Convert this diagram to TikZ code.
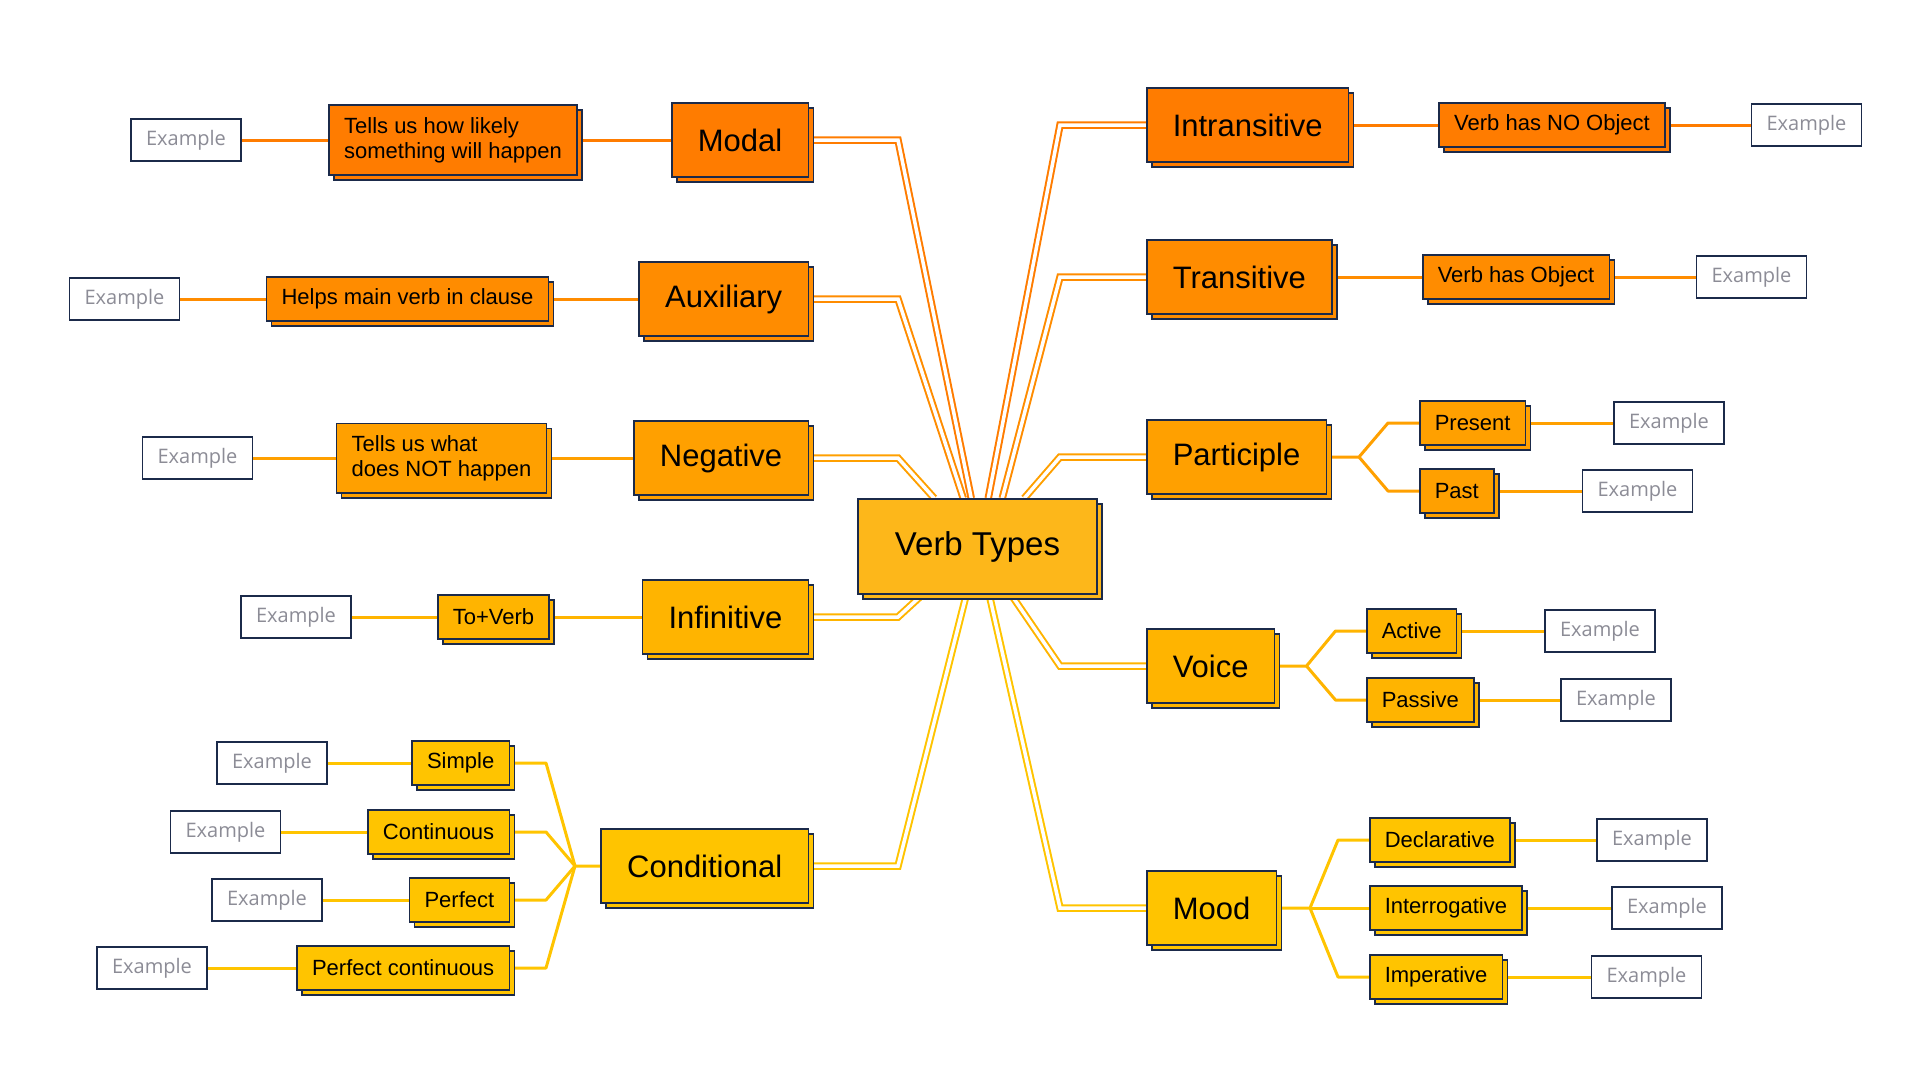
\documentclass[tikz,border=0pt]{standalone}
\usepackage{fontspec}
\setmainfont{Liberation Sans}
\newfontfamily\exfont{Open Sans}
\usetikzlibrary{shadows,backgrounds,calc}

\definecolor{navy}{RGB}{27,42,74}
\definecolor{cA}{RGB}{255,124,0}
\definecolor{cB}{RGB}{255,140,0}
\definecolor{cC}{RGB}{255,160,0}
\definecolor{cD}{RGB}{255,180,0}
\definecolor{cE}{RGB}{255,196,0}
\definecolor{cVT}{RGB}{253,183,26}
\definecolor{exgray}{RGB}{140,140,150}

\begin{document}
\begin{tikzpicture}[x=1pt, y=-1pt,
    box/.style={draw=navy, line width=1.5pt, text=black,
        copy shadow={shadow xshift=5pt, shadow yshift=-5pt}},
    topbox/.style={box, fill=cVT, minimum width=239pt, minimum height=95pt,
        font=\fontsize{33}{38}\selectfont},
    mainbox/.style={box, fill=#1, inner xsep=26pt, minimum height=74pt,
        font=\fontsize{31}{36}\selectfont},
    subbox/.style={box, fill=#1, inner xsep=15pt, minimum height=44pt,
        align=left, font=\fontsize{22}{25}\selectfont},
    exbox/.style={draw=navy, line width=1.5pt, fill=white, text=exgray,
        minimum width=110pt, minimum height=42pt,
        font=\exfont\fontsize{20}{24}\selectfont},
    link/.style={draw=#1, line width=2pt, double=white, double distance=3.5pt},
    wire/.style={draw=#1, line width=3pt, line join=round}]

    \useasboundingbox (0,0) rectangle (1930,1090);

    \draw
    (977.5, 546.5) node[topbox](vt){Verb Types}
    % left side
    (809, 140) node[mainbox=cA, anchor=east](modal){Modal}
    (453, 140) node[subbox=cA, inner ysep=12pt](modalInfo){Tells us how likely\\something will happen}
    (186, 140) node[exbox](modalEx){Example}
    (809, 299) node[mainbox=cB, anchor=east](aux){Auxiliary}
    (407.5, 299) node[subbox=cB](auxInfo){Helps main verb in clause}
    (124.5, 299) node[exbox](auxEx){Example}
    (809, 458) node[mainbox=cC, anchor=east](neg){Negative}
    (441.5, 458) node[subbox=cC, inner ysep=12pt](negInfo){Tells us what\\does NOT happen}
    (197.5, 458) node[exbox](negEx){Example}
    (809, 617) node[mainbox=cD, anchor=east](inf){Infinitive}
    (493.5, 617) node[subbox=cD](infInfo){To+Verb}
    (296, 617) node[exbox](infEx){Example}
    (809, 866) node[mainbox=cE, anchor=east](cond){Conditional}
    (510, 763) node[subbox=cE, anchor=east](simple){Simple}
    (272, 763) node[exbox](simpleEx){Example}
    (510, 832) node[subbox=cE, anchor=east](cont){Continuous}
    (225.5, 832) node[exbox](contEx){Example}
    (510, 900) node[subbox=cE, anchor=east](perf){Perfect}
    (267, 900) node[exbox](perfEx){Example}
    (510, 968) node[subbox=cE, anchor=east](perfcont){Perfect continuous}
    (152, 968) node[exbox](perfcontEx){Example}
    % right side
    (1146, 125) node[mainbox=cA, anchor=west](intr){Intransitive}
    (1552, 125) node[subbox=cA](intrInfo){Verb has NO Object}
    (1806.5, 125) node[exbox](intrEx){Example}
    (1146, 277) node[mainbox=cB, anchor=west](tran){Transitive}
    (1516, 277) node[subbox=cB](tranInfo){Verb has Object}
    (1751.5, 277) node[exbox](tranEx){Example}
    (1146, 457) node[mainbox=cC, anchor=west](part){Participle}
    (1419, 423) node[subbox=cC, anchor=west](present){Present}
    (1669, 423) node[exbox](presentEx){Example}
    (1419, 491) node[subbox=cC, anchor=west](past){Past}
    (1637.5, 491) node[exbox](pastEx){Example}
    (1146, 666) node[mainbox=cD, anchor=west](voice){Voice}
    (1366, 631) node[subbox=cD, anchor=west](active){Active}
    (1600, 631) node[exbox](activeEx){Example}
    (1366, 700) node[subbox=cD, anchor=west](passive){Passive}
    (1616, 700) node[exbox](passiveEx){Example}
    (1146, 908) node[mainbox=cE, anchor=west](mood){Mood}
    (1369, 840) node[subbox=cE, anchor=west](decl){Declarative}
    (1652, 840) node[exbox](declEx){Example}
    (1369, 908) node[subbox=cE, anchor=west](inter){Interrogative}
    (1667, 908) node[exbox](interEx){Example}
    (1369, 977) node[subbox=cE, anchor=west](imper){Imperative}
    (1646.5, 977) node[exbox](imperEx){Example};

    \coordinate (lc) at (898, 0);
    \coordinate (rc) at (1060, 0);
    \coordinate (cf) at (546, 0);
    \coordinate (cj) at (575, 866);
    \coordinate (pj) at (1359, 457);
    \coordinate (pf) at (1388, 0);
    \coordinate (vj) at (1306.5, 666);
    \coordinate (vf) at (1335.5, 0);
    \coordinate (mj) at (1310, 908);
    \coordinate (mf) at (1338, 0);

    \begin{scope}[on background layer]
    \draw[link=cA] (modal.east) -- (modal.east -| lc) -- ($(vt.north west)+(114,0)$);
    \draw[link=cB] (aux.east) -- (aux.east -| lc) -- ($(vt.north west)+(106,0)$);
    \draw[link=cC] (neg.east) -- (neg.east -| lc) -- ($(vt.north west)+(77,0)$);
    \draw[link=cD] (inf.east) -- (inf.east -| lc) -- ($(vt.south west)+(65,0)$);
    \draw[link=cE] (cond.east) -- (cond.east -| lc) -- ($(vt.south west)+(109,0)$);
    \draw[link=cA] (intr.west) -- (intr.west -| rc) -- ($(vt.north west)+(131,0)$);
    \draw[link=cB] (tran.west) -- (tran.west -| rc) -- ($(vt.north west)+(145,0)$);
    \draw[link=cC] (part.west) -- (part.west -| rc) -- ($(vt.north west)+(167,0)$);
    \draw[link=cD] (voice.west) -- (voice.west -| rc) -- ($(vt.south west)+(154,0)$);
    \draw[link=cE] (mood.west) -- (mood.west -| rc) -- ($(vt.south west)+(132,0)$);

    \draw[wire=cA] (modalEx.east) -- (modalInfo.west);
    \draw[wire=cA] (modalInfo.east) -- (modal.west);
    \draw[wire=cB] (auxEx.east) -- (auxInfo.west);
    \draw[wire=cB] (auxInfo.east) -- (aux.west);
    \draw[wire=cC] (negEx.east) -- (negInfo.west);
    \draw[wire=cC] (negInfo.east) -- (neg.west);
    \draw[wire=cD] (infEx.east) -- (infInfo.west);
    \draw[wire=cD] (infInfo.east) -- (inf.west);

    \draw[wire=cE] (simpleEx.east) -- (simple.west);
    \draw[wire=cE] (contEx.east) -- (cont.west);
    \draw[wire=cE] (perfEx.east) -- (perf.west);
    \draw[wire=cE] (perfcontEx.east) -- (perfcont.west);
    \draw[wire=cE] (simple.east) -- (simple.east -| cf) -- (cj) -- (cond.west);
    \draw[wire=cE] (cont.east) -- (cont.east -| cf) -- (cj);
    \draw[wire=cE] (perf.east) -- (perf.east -| cf) -- (cj);
    \draw[wire=cE] (perfcont.east) -- (perfcont.east -| cf) -- (cj);

    \draw[wire=cA] (intr.east) -- (intrInfo.west);
    \draw[wire=cA] (intrInfo.east) -- (intrEx.west);
    \draw[wire=cB] (tran.east) -- (tranInfo.west);
    \draw[wire=cB] (tranInfo.east) -- (tranEx.west);

    \draw[wire=cC] (part.east) -- (pj) -- (pf |- present.west) -- (present.west);
    \draw[wire=cC] (pj) -- (pf |- past.west) -- (past.west);
    \draw[wire=cC] (present.east) -- (presentEx.west);
    \draw[wire=cC] (past.east) -- (pastEx.west);

    \draw[wire=cD] (voice.east) -- (vj) -- (vf |- active.west) -- (active.west);
    \draw[wire=cD] (vj) -- (vf |- passive.west) -- (passive.west);
    \draw[wire=cD] (active.east) -- (activeEx.west);
    \draw[wire=cD] (passive.east) -- (passiveEx.west);

    \draw[wire=cE] (mood.east) -- (mj) -- (mf |- decl.west) -- (decl.west);
    \draw[wire=cE] (mj) -- (inter.west);
    \draw[wire=cE] (mj) -- (mf |- imper.west) -- (imper.west);
    \draw[wire=cE] (decl.east) -- (declEx.west);
    \draw[wire=cE] (inter.east) -- (interEx.west);
    \draw[wire=cE] (imper.east) -- (imperEx.west);
    \end{scope}

\end{tikzpicture}
\end{document}
